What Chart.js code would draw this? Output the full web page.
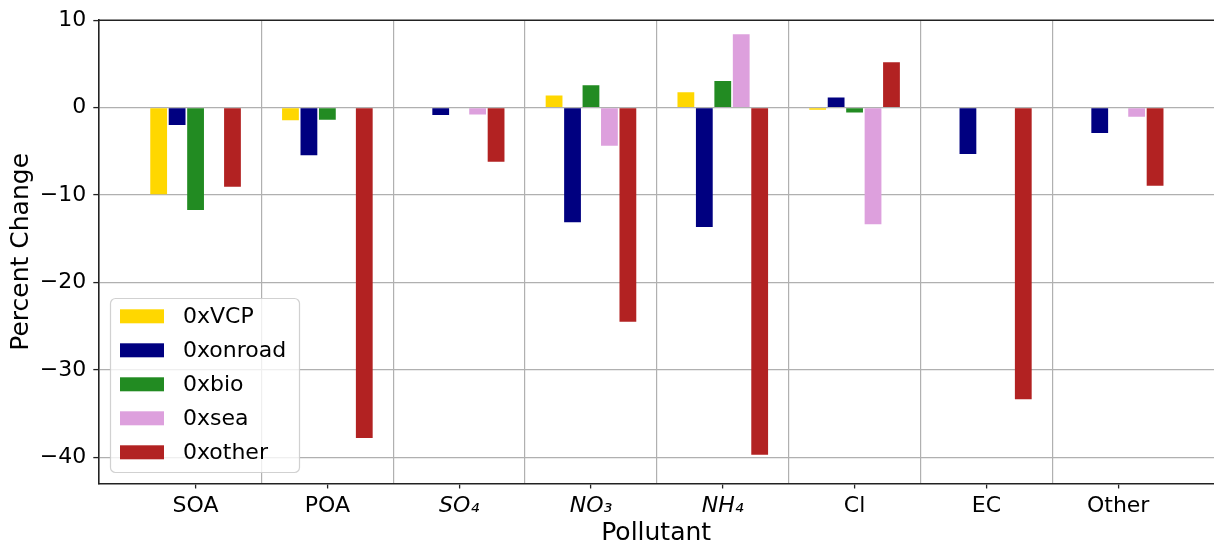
<!DOCTYPE html>
<html>
<head>
<meta charset="utf-8">
<script src="https://cdn.jsdelivr.net/npm/chart.js@4/dist/chart.umd.min.js"></script>
<style>
html,body{margin:0;padding:0;background:#fff;}
#wrap{width:1214px;height:550px;position:relative;}
</style>
</head>
<body>
<div id="wrap"><canvas id="c" width="1214" height="550"></canvas></div>
<script>
const categories = ['SOA', 'POA', 'SO\u2084', 'NO\u2083', 'NH\u2084', 'Cl', 'EC', 'Other'];
const italicCats = [false, false, true, true, true, false, false, false];
const seriesNames = ['0xVCP', '0xonroad', '0xbio', '0xsea', '0xother'];
const vcp    = [-9.9, -1.45, 0, 1.4, 1.75, -0.25, 0, 0];
const onroad = [-2.0, -5.45, -0.85, -13.1, -13.65, 1.15, -5.3, -2.9];
const bio    = [-11.7, -1.4, 0, 2.55, 3.05, -0.55, 0, 0];
const sea    = [0, 0, -0.8, -4.35, 8.4, -13.35, 0, -1.05];
const other  = [-9.05, -37.8, -6.2, -24.5, -39.7, 5.2, -33.35, -8.95];
const yTicks = [-40, -30, -20, -10, 0, 10];
const colors = ['#FFD700', '#000080', '#228B22', '#DDA0DD', '#B22222'];

const FONT = "'DejaVu Sans', sans-serif";
const allSeries = [vcp, onroad, bio, sea, other];

const datasets = allSeries.map((arr, k) => ({
  label: seriesNames[k],
  data: arr.map((v, i) => ({x: i, y: v})),
  backgroundColor: colors[k],
  borderWidth: 0,
  categoryPercentage: 1.4,
  barPercentage: 0.91
}));

const legendPlugin = {
  id: 'mplLegend',
  afterDraw(chart) {
    const ctx = chart.ctx;
    const x0 = 110.5, y0 = 298.5, w = 189, h = 174, r = 5;
    ctx.save();
    ctx.beginPath();
    ctx.roundRect(x0, y0, w, h, r);
    ctx.fillStyle = 'rgba(255,255,255,0.8)';
    ctx.fill();
    ctx.strokeStyle = 'rgba(204,204,204,0.9)';
    ctx.lineWidth = 1.2;
    ctx.stroke();
    chart.data.datasets.forEach((ds, i) => {
      const cy = 316.3 + 34 * i;
      ctx.fillStyle = ds.backgroundColor;
      ctx.fillRect(120, cy - 7, 44, 14);
      ctx.fillStyle = '#000';
      ctx.font = '22px ' + FONT;
      ctx.textBaseline = 'middle';
      ctx.textAlign = 'left';
      ctx.fillText(ds.label, 183, cy + 1);
    });
    ctx.restore();
  }
};

const topSpine = {
  id: 'topSpine',
  afterDatasetsDraw(chart) {
    const {ctx, chartArea} = chart;
    ctx.save();
    ctx.strokeStyle = '#222';
    ctx.lineWidth = 1.6;
    ctx.beginPath();
    ctx.moveTo(chartArea.left, chartArea.top);
    ctx.lineTo(chartArea.right, chartArea.top);
    ctx.stroke();
    ctx.restore();
  }
};

new Chart(document.getElementById('c'), {
  type: 'bar',
  data: { datasets },
  options: {
    responsive: false,
    animation: false,
    layout: { padding: { top: 18, right: 0, left: 0, bottom: 0 } },
    plugins: { legend: { display: false }, tooltip: { enabled: false } },
    scales: {
      x: {
        type: 'linear',
        offset: false,
        min: -0.738,
        max: 7.727,
        afterBuildTicks(scale) {
          const t = [];
          for (let v = 0; v <= 7; v += 0.5) t.push({ value: v });
          scale.ticks = t;
        },
        afterFit(scale) { scale.height = 66.5; },
        ticks: {
          autoSkip: false,
          maxRotation: 0,
          padding: 5,
          color: '#000',
          font: (c) => ({
            family: FONT,
            size: 22,
            style: (c.tick && Number.isInteger(c.tick.value) && italicCats[c.tick.value]) ? 'italic' : 'normal'
          }),
          callback: (v) => Number.isInteger(v) ? categories[v] : ''
        },
        grid: {
          offset: false,
          color: (c) => (c.tick && !Number.isInteger(c.tick.value)) ? '#b0b0b0' : 'rgba(0,0,0,0)',
          tickColor: (c) => (c.tick && Number.isInteger(c.tick.value)) ? '#222' : 'rgba(0,0,0,0)',
          lineWidth: 1.2,
          tickWidth: 1.3,
          tickLength: 5
        },
        border: { color: '#222', width: 1.6 },
        title: {
          display: true,
          text: 'Pollutant',
          color: '#000',
          font: { family: FONT, size: 25 },
          padding: { top: 0, bottom: 2 }
        }
      },
      y: {
        min: -43,
        max: 10,
        afterBuildTicks(scale) { scale.ticks = yTicks.map(v => ({ value: v })); },
        afterFit(scale) { scale.width = 98.3; },
        ticks: {
          padding: 7,
          color: '#000',
          font: { family: FONT, size: 22 },
          callback: (v) => v < 0 ? '\u2212' + Math.abs(v) : String(v)
        },
        grid: {
          color: (c) => (c.tick && c.tick.value === 10) ? 'rgba(0,0,0,0)' : '#b0b0b0',
          tickColor: '#222',
          lineWidth: 1.2,
          tickWidth: 1.3,
          tickLength: 5
        },
        border: { color: '#222', width: 1.6 },
        title: {
          display: true,
          text: 'Percent Change',
          color: '#000',
          font: { family: FONT, size: 25 },
          padding: { top: 6, bottom: 0 }
        }
      }
    }
  },
  plugins: [topSpine, legendPlugin]
});
</script>
</body>
</html>
